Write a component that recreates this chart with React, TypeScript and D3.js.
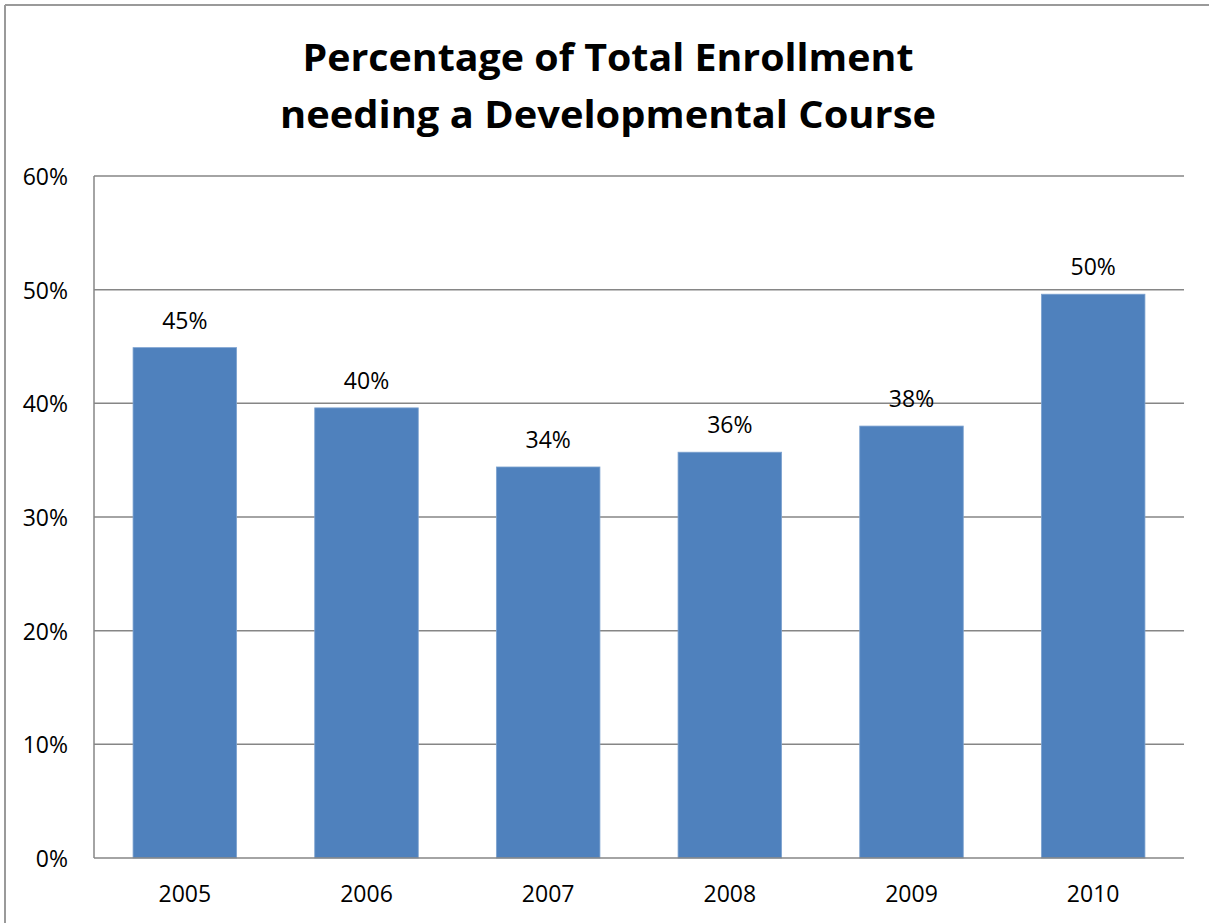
import React from "react";
import * as d3 from "d3";

const years = ["2005", "2006", "2007", "2008", "2009", "2010"];
const values = [0.449, 0.396, 0.344, 0.357, 0.38, 0.496];
const yTicks = [0, 0.1, 0.2, 0.3, 0.4, 0.5, 0.6];
const titleLines = ["Percentage of Total Enrollment", "needing a Developmental Course"];

const W = 1209;
const H = 923;
const left = 94;
const right = 1184;
const top = 176;
const bottom = 858;
const FONT = "'Open Sans', 'Liberation Sans', sans-serif";

export default function App() {
  const x = d3.scaleBand<string>().domain(years).range([left, right]).paddingInner(0.43).paddingOuter(0.215);
  const y = d3.scaleLinear().domain([0, 0.6]).range([bottom, top]);
  const pct = d3.format(".0%");

  return (
    <svg width={W} height={H} style={{ position: "absolute", left: 0, top: 0, background: "#fff" }}>
      <rect x={0} y={0} width={W} height={H} fill="#fff" />
      <line x1={5} x2={W} y1={5} y2={5} stroke="#9a9a9a" strokeWidth={2} />
      <line x1={5} x2={5} y1={5} y2={H} stroke="#9a9a9a" strokeWidth={2} />
      {titleLines.map((t, i) => (
        <text key={t} x={608} y={71 + i * 57} textAnchor="middle" fontFamily={FONT} fontWeight="bold" fontSize={37}
          textLength={i === 0 ? 611 : 656} lengthAdjust="spacingAndGlyphs" fill="#000">
          {t}
        </text>
      ))}
      {yTicks.map((t) => (
        <g key={t}>
          {t > 0 && <line x1={left} x2={right} y1={y(t)} y2={y(t)} stroke="#868686" strokeWidth={1.5} />}
          <text x={68} y={y(t) + 9} textAnchor="end" fontFamily={FONT} fontSize={23} fill="#000">
            {pct(t)}
          </text>
        </g>
      ))}
      {years.map((yr, i) => (
        <g key={yr}>
          <rect x={x(yr)} y={y(values[i])} width={x.bandwidth()} height={bottom - y(values[i])} fill="#4F81BD" stroke="#7ea3d0" strokeWidth={0.8} />
          <text x={(x(yr) as number) + x.bandwidth() / 2} y={y(values[i]) - 19} textAnchor="middle" fontFamily={FONT} fontSize={23} fill="#000">
            {pct(values[i])}
          </text>
          <text x={(x(yr) as number) + x.bandwidth() / 2} y={902} textAnchor="middle" fontFamily={FONT} fontSize={23} fill="#000">
            {yr}
          </text>
        </g>
      ))}
      <line x1={left} x2={left} y1={top} y2={bottom} stroke="#868686" strokeWidth={1.5} />
      <line x1={left} x2={right} y1={bottom} y2={bottom} stroke="#868686" strokeWidth={1.5} />
    </svg>
  );
}
